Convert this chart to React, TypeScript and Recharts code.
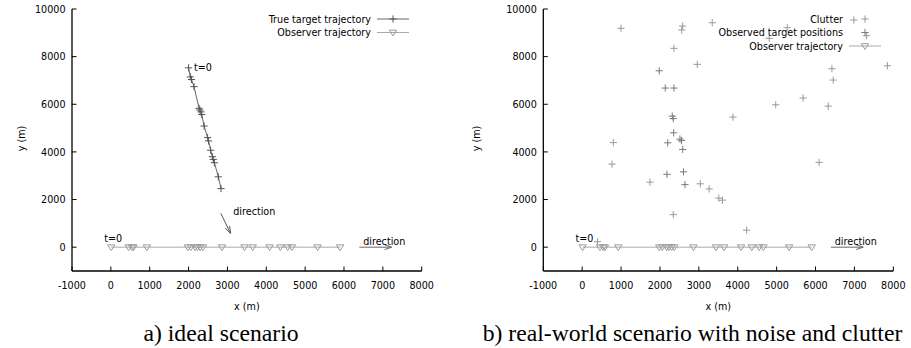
import React from 'react';
import { ScatterChart, Scatter, XAxis, YAxis, ReferenceLine, ReferenceDot, Legend } from 'recharts';

const FONT = '"DejaVu Sans", sans-serif';
const FS = 9.6;

const xTicks = [-1000, 0, 1000, 2000, 3000, 4000, 5000, 6000, 7000, 8000];
const yTicks = [0, 2000, 4000, 6000, 8000, 10000];
const xDomain = [-1000, 8000];
const yDomain = [-1000, 10000];

// Observer trajectory (both scenarios)
const observerX = [10, 457, 542, 585, 928, 1982, 2059, 2170, 2230, 2300, 2370, 2860, 3440, 3650, 4085, 4360, 4550, 4660, 5320, 5900];
const observerY = [0, 0, 0, 0, 0, 0, 0, 0, 0, 0, 0, 0, 0, 0, 0, 0, 0, 0, 0, 0];

// True target trajectory (ideal scenario)
const targetX = [2000, 2045, 2075, 2140, 2270, 2292, 2318, 2338, 2400, 2490, 2515, 2568, 2612, 2636, 2665, 2765, 2835];
const targetY = [7530, 7150, 7040, 6740, 5830, 5760, 5680, 5570, 5085, 4600, 4460, 4070, 3800, 3685, 3545, 2955, 2460];

// Observed target positions (real-world scenario)
const observedX = [1982, 2136, 2360, 2316, 2342, 2352, 2200, 2514, 2553, 2584, 2604, 2180, 2643];
const observedY = [7408, 6681, 6681, 5504, 5399, 4803, 4382, 4538, 4475, 4105, 3164, 3059, 2626];

// Clutter (real-world scenario)
const clutterX = [997, 2584, 2558, 3344, 4810, 5272, 6987, 7314, 2360, 2959, 3877, 4977, 5681, 6327, 6422, 6455, 7849, 800, 766, 6093, 1743, 3036, 3265, 3512, 3607, 2342, 4229, 393];
const clutterY = [9189, 9286, 9118, 9424, 8769, 9214, 9538, 8878, 8349, 7676, 5462, 5979, 6261, 5924, 7492, 7017, 7618, 4391, 3487, 3559, 2731, 2660, 2445, 2059, 1975, 1366, 714, 231];

// Direction arrows
const targetDirX = [2830, 3080];
const targetDirY = [1420, 580];
const observerDirX = [6395, 7226];
const observerDirY = [0, 0];

// Annotations
const leftNoteText = ['t=0', 't=0', 'direction', 'direction'];
const leftNoteX = [2140, -170, 3150, 6495];
const leftNoteY = [7395, 197, 1357, 97];
const rightNoteText = ['t=0', 'direction'];
const rightNoteX = [-170, 6495];
const rightNoteY = [197, 97];

const captions = ['a) ideal scenario', 'b) real-world scenario with noise and clutter'];

const toPts = (xs: number[], ys: number[]) => xs.map((x, i) => ({ x, y: ys[i] }));

function Plus({ cx, cy, color }: any) {
  return (
    <g>
      <line x1={cx - 3.6} x2={cx + 3.6} y1={cy} y2={cy} stroke={color} strokeWidth={1} />
      <line x1={cx} x2={cx} y1={cy - 3.6} y2={cy + 3.6} stroke={color} strokeWidth={1} />
    </g>
  );
}
function Tri({ cx, cy, color }: any) {
  return (
    <polygon
      points={`${cx - 3.7},${cy - 2.3} ${cx + 3.7},${cy - 2.3} ${cx},${cy + 3.4}`}
      fill="none"
      stroke={color}
      strokeWidth={1}
    />
  );
}

type Ser = { name: string; data: { x: number; y: number }[]; kind: 'plus' | 'tri'; color: string; lineColor?: string };

const arrowShape = (color: string) => (p: any) => {
  const { x1, y1, x2, y2 } = p;
  const ang = Math.atan2(y2 - y1, x2 - x1);
  const L = 7;
  const W = 2.4;
  const bx = x2 - L * Math.cos(ang);
  const by = y2 - L * Math.sin(ang);
  const px = -Math.sin(ang) * W;
  const py = Math.cos(ang) * W;
  return (
    <g>
      <line x1={x1} y1={y1} x2={x2} y2={y2} stroke={color} strokeWidth={1} />
      <polyline points={`${bx + px},${by + py} ${x2},${y2} ${bx - px},${by - py}`} fill="none" stroke={color} strokeWidth={1} />
    </g>
  );
};

const BottomTick = (p: any) => (
  <g>
    <line x1={p.x} x2={p.x} y1={p.y} y2={p.y - 4.5} stroke="#000" strokeWidth={1} />
    <text x={p.x} y={p.y + 17.5} textAnchor="middle" fontFamily={FONT} fontSize={FS} fill="#000">{p.payload.value}</text>
  </g>
);
const TopTick = (p: any) => (
  <line x1={p.x} x2={p.x} y1={p.y} y2={p.y + 4.5} stroke="#000" strokeWidth={1} />
);
const LeftTick = (p: any) => (
  <g>
    <line x1={p.x} x2={p.x + 4.5} y1={p.y} y2={p.y} stroke="#000" strokeWidth={1} />
    <text x={p.x - 6.5} y={p.y + 3.6} textAnchor="end" fontFamily={FONT} fontSize={FS} fill="#000">{p.payload.value}</text>
  </g>
);
const RightTick = (p: any) => (
  <line x1={p.x} x2={p.x - 4.5} y1={p.y} y2={p.y} stroke="#000" strokeWidth={1} />
);

function Panel({ width, marginLeft, marginRight, ylabelX, series, noteText, noteX, noteY, arrows, legendLeft }: any) {
  const legendContent = () => (
    <svg width={250} height={60} style={{ display: 'block', overflow: 'visible' }}>
      {series.map((s: Ser, i: number) => {
        const by = 22.7 + i * 13.5;
        const cy = by - 3.7;
        return (
          <g key={s.name}>
            <text x={200} y={by} textAnchor="end" fontFamily={FONT} fontSize={FS} fill="#000">{s.name}</text>
            {s.lineColor ? <line x1={206} x2={238} y1={cy} y2={cy} stroke={s.lineColor} strokeWidth={1} /> : null}
            {s.kind === 'plus' ? <Plus cx={222} cy={cy} color={s.color} /> : <Tri cx={222} cy={cy} color={s.color} />}
          </g>
        );
      })}
    </svg>
  );
  return (
    <ScatterChart width={width} height={316} margin={{ top: 9, right: marginRight, left: marginLeft, bottom: 0 }}>
      <XAxis
        type="number"
        dataKey="x"
        domain={xDomain}
        ticks={xTicks}
        interval={0}
        height={45}
        tickSize={0}
        tickMargin={0}
        tickLine={false}
        allowDataOverflow
        axisLine={{ stroke: '#000', strokeWidth: 1.3 }}
        tick={BottomTick}
        label={{
          value: 'x (m)',
          content: (p: any) => {
            const vb = p.viewBox || {};
            return (
              <text x={vb.x + vb.width / 2} y={vb.y + 38.5} textAnchor="middle" fontFamily={FONT} fontSize={FS} fill="#000">x (m)</text>
            );
          },
        }}
      />
      <XAxis
        xAxisId="top"
        orientation="top"
        type="number"
        dataKey="x"
        domain={xDomain}
        ticks={xTicks}
        interval={0}
        height={0}
        tickSize={0}
        tickMargin={0}
        tickLine={false}
        allowDataOverflow
        axisLine={{ stroke: '#000', strokeWidth: 1.3 }}
        tick={TopTick}
      />
      <YAxis
        type="number"
        dataKey="y"
        domain={yDomain}
        ticks={yTicks}
        interval={0}
        width={60}
        tickSize={0}
        tickMargin={0}
        tickLine={false}
        allowDataOverflow
        axisLine={{ stroke: '#000', strokeWidth: 1.3 }}
        tick={LeftTick}
        label={{
          value: 'y (m)',
          content: (p: any) => {
            const vb = p.viewBox || {};
            const cy = vb.y + vb.height / 2 - 1.5;
            return (
              <text x={ylabelX} y={cy} transform={`rotate(-90 ${ylabelX} ${cy})`} textAnchor="middle" dominantBaseline="central" fontFamily={FONT} fontSize={FS} fill="#000">y (m)</text>
            );
          },
        }}
      />
      <YAxis
        yAxisId="right"
        orientation="right"
        type="number"
        dataKey="y"
        domain={yDomain}
        ticks={yTicks}
        interval={0}
        width={0}
        tickSize={0}
        tickMargin={0}
        tickLine={false}
        allowDataOverflow
        axisLine={{ stroke: '#000', strokeWidth: 1.3 }}
        tick={RightTick}
      />
      <Legend
        layout="vertical"
        align="center"
        verticalAlign="middle"
        wrapperStyle={{ left: legendLeft, top: 0, width: 250, height: 60 }}
        content={legendContent}
      />
      {series.map((s: Ser) => (
        <Scatter
          key={s.name}
          name={s.name}
          data={s.data}
          isAnimationActive={false}
          fill={s.color}
          line={s.lineColor ? { stroke: s.lineColor, strokeWidth: 1 } : false}
          lineType="joint"
          shape={(p: any) => (s.kind === 'plus' ? <Plus cx={p.cx} cy={p.cy} color={s.color} /> : <Tri cx={p.cx} cy={p.cy} color={s.color} />)}
        />
      ))}
      {arrows.map((a: any, i: number) => (
        <ReferenceLine
          key={'a' + i}
          segment={[{ x: a.xs[0], y: a.ys[0] }, { x: a.xs[1], y: a.ys[1] }]}
          ifOverflow="visible"
          shape={arrowShape(a.color)}
        />
      ))}
      {noteText.map((t: string, i: number) => (
        <ReferenceDot
          key={'n' + i}
          x={noteX[i]}
          y={noteY[i]}
          r={0}
          ifOverflow="visible"
          shape={(p: any) => (
            <text x={p.cx} y={p.cy} fontFamily={FONT} fontSize={FS} fill="#000">{t}</text>
          )}
        />
      ))}
    </ScatterChart>
  );
}

export default function App() {
  const leftSeries: Ser[] = [
    { name: 'True target trajectory', data: toPts(targetX, targetY), kind: 'plus', color: '#555', lineColor: '#666' },
    { name: 'Observer trajectory', data: toPts(observerX, observerY), kind: 'tri', color: '#9a9a9a', lineColor: '#aaa' },
  ];
  const rightSeries: Ser[] = [
    { name: 'Clutter', data: toPts(clutterX, clutterY), kind: 'plus', color: '#999' },
    { name: 'Observed target positions', data: toPts(observedX, observedY), kind: 'plus', color: '#7a7a7a' },
    { name: 'Observer trajectory', data: toPts(observerX, observerY), kind: 'tri', color: '#9a9a9a', lineColor: '#aaa' },
  ];
  const leftArrows = [
    { xs: targetDirX, ys: targetDirY, color: '#555' },
    { xs: observerDirX, ys: observerDirY, color: '#666' },
  ];
  const rightArrows = [{ xs: observerDirX, ys: observerDirY, color: '#666' }];
  const capStyle: React.CSSProperties = {
    position: 'absolute',
    top: 322,
    width: 500,
    textAlign: 'center',
    fontFamily: '"Liberation Serif", serif',
    fontSize: 23.7,
    lineHeight: '23px',
    color: '#000',
    whiteSpace: 'nowrap',
  };
  return (
    <div style={{ position: 'absolute', left: 0, top: 0, width: 911, height: 348, background: '#fff', overflow: 'hidden' }}>
      <div style={{ position: 'absolute', left: 0, top: 0 }}>
        <Panel
          width={455}
          marginLeft={12}
          marginRight={33.3}
          ylabelX={21.5}
          series={leftSeries}
          noteText={leftNoteText}
          noteX={leftNoteX}
          noteY={leftNoteY}
          arrows={leftArrows}
          legendLeft={171}
        />
      </div>
      <div style={{ position: 'absolute', left: 455, top: 0 }}>
        <Panel
          width={456}
          marginLeft={28.3}
          marginRight={17.7}
          ylabelX={21}
          series={rightSeries}
          noteText={rightNoteText}
          noteX={rightNoteX}
          noteY={rightNoteY}
          arrows={rightArrows}
          legendLeft={187.7}
        />
      </div>
      <div style={{ ...capStyle, left: 221 - 250 }}>{captions[0]}</div>
      <div style={{ ...capStyle, left: 692.5 - 250 }}>{captions[1]}</div>
    </div>
  );
}
